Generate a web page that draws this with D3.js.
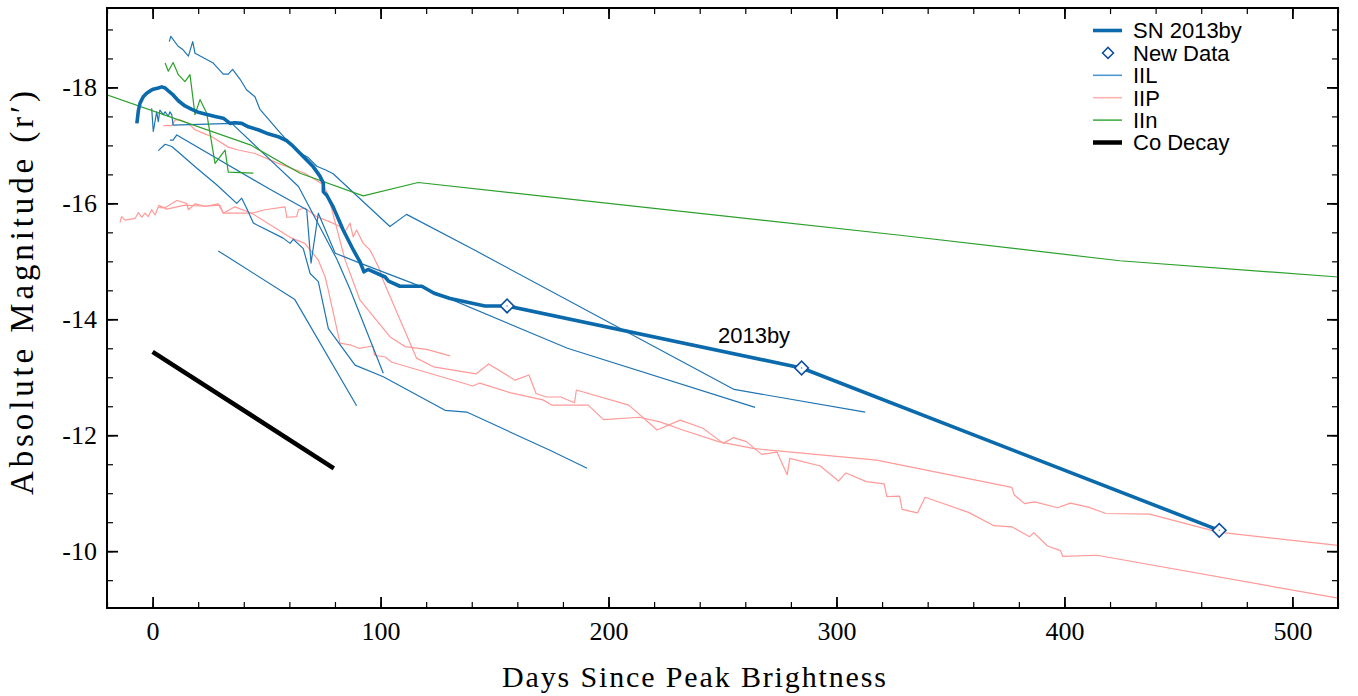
<!DOCTYPE html>
<html>
<head>
<meta charset="utf-8">
<script src="https://cdn.jsdelivr.net/npm/d3@7/dist/d3.min.js"></script>
<style>
  body { margin: 0; background: #fff; }
</style>
</head>
<body>
<div id="graph"></div>
<script>
// light curves, [days since peak, absolute magnitude]
const sn2013by = [[-6.9,-17.38],[-6.2,-17.61],[-5.5,-17.73],[-4.1,-17.84],[-2.6,-17.90],[-1.1,-17.94],
  [0.3,-17.97],[2.5,-17.99],[4.0,-18.01],[5.5,-17.99],[6.9,-17.94],[9.0,-17.87],[11.3,-17.77],
  [14.2,-17.68],[17.2,-17.62],[20.1,-17.57],[23.0,-17.54],[27.4,-17.50],[31.0,-17.47],[34.0,-17.38],
  [36.1,-17.39],[39.1,-17.38],[42.0,-17.32],[46.3,-17.27],[50.7,-17.20],[55.1,-17.15],[58.9,-17.08],
  [61.0,-17.01],[64.0,-16.89],[66.8,-16.78],[70.5,-16.63],[73.4,-16.47],[74.9,-16.35],[74.9,-16.20],
  [76.4,-16.14],[79.2,-15.94],[83.6,-15.54],[88.0,-15.20],[91.0,-14.99],[92.7,-14.82],[94.5,-14.86],
  [102.0,-14.73],[103.5,-14.66],[108.5,-14.57],[118.1,-14.57],[123.5,-14.45],[130.5,-14.36],
  [145.8,-14.23],[155.5,-14.23],[284.7,-13.16],[467.9,-10.36]];

const newData = [[155.5,-14.23],[284.7,-13.16],[467.9,-10.36]];

const coDecay = [[0,-13.44],[79.5,-11.43]];

const iilA = [[7.3,-18.79],[8.0,-18.88],[11.2,-18.71],[13.1,-18.66],[15.7,-18.54],[17.6,-18.79],
  [18.6,-18.59],[26.6,-18.42],[31.0,-18.23],[33.2,-18.23],[35.1,-18.31],[38.4,-18.14],[41.2,-17.96],
  [44.9,-17.84],[47.1,-17.62],[55.9,-17.22],[63.2,-16.90],[68.3,-16.79],[72.0,-16.64],[75.7,-16.58],
  [79.2,-16.51],[104.1,-15.60],[111.4,-15.81],[141.4,-15.19],[255.1,-12.79],[312.6,-12.40]];
const iilB = [[-0.4,-17.64],[0.3,-17.24],[1.8,-17.58],[2.5,-17.41],[3.2,-17.61],[4.7,-17.53],
  [5.5,-17.58],[6.9,-17.50],[7.6,-17.58],[8.4,-17.53],[9.0,-17.35],[34.7,-17.38],[64.0,-16.29],
  [80.8,-15.04],[86.6,-14.52],[101.2,-13.07]];
const iilC = [[2.5,-16.91],[5.5,-17.02],[8.4,-16.98],[12.0,-16.86],[19.3,-16.61],[28.1,-16.32],
  [36.9,-16.00],[39.1,-16.09],[41.2,-15.92],[44.2,-15.66],[45.6,-15.63],[57.3,-15.40],[60.3,-15.31],
  [61.7,-15.38],[66.1,-15.22],[69.1,-14.79],[72.7,-14.65],[77.1,-13.84],[88.8,-13.21],[101.2,-13.01],
  [128.3,-12.43],[137.8,-12.40],[174.3,-11.74],[190.6,-11.43]];
const iilD = [[28.8,-15.18],[62.4,-14.34],[89.5,-12.51]];
const iilE = [[7.6,-17.09],[9.0,-17.09],[10.6,-17.18],[50.7,-16.26],[67.6,-15.89],[69.5,-14.97],
  [72.7,-15.83],[80.1,-15.14],[91.0,-14.97],[114.2,-14.62],[182.0,-13.50],[264.3,-12.48]];

const iipA = [[-14.3,-15.67],[-13.6,-15.77],[-12.1,-15.71],[-7.7,-15.74],[-6.2,-15.84],[-4.8,-15.76],
  [-3.3,-15.83],[-1.9,-15.77],[-0.4,-15.89],[1.1,-15.80],[2.5,-15.94],[4.0,-15.92],[6.2,-15.94],
  [10.6,-16.05],[15.0,-16.00],[15.7,-15.89],[18.6,-15.99],[23.0,-15.95],[28.8,-15.99],[31.0,-15.83],
  [36.1,-15.94],[43.5,-15.83],[49.3,-15.89],[58.1,-15.94],[58.9,-15.76],[63.2,-15.77],[64.0,-15.89],
  [66.8,-15.92],[72.0,-15.77],[77.8,-15.68],[82.2,-15.60],[84.4,-15.51],[86.6,-15.66],[88.0,-15.42],
  [89.5,-15.54],[92.4,-15.31],[95.3,-15.20],[96.9,-15.08],[99.7,-14.85],[100.5,-14.73],[115.8,-13.33],
  [123.2,-13.18],[142.0,-13.06],[147.4,-13.23],[159.0,-12.95],[165.1,-13.04],[168.2,-12.72],
  [172.8,-12.66],[179.0,-12.66],[185.1,-12.56],[185.9,-12.78],[208.9,-12.52],[221.3,-12.09],
  [231.4,-12.26],[241.4,-12.12],[250.4,-11.86],[254.9,-11.96],[260.5,-11.89],[267.2,-11.67],
  [273.9,-11.71],[278.4,-11.32],[279.5,-11.60],[292.9,-11.47],[300.9,-11.21],[304.1,-11.35],
  [313.1,-11.20],[320.9,-11.16],[322.1,-10.94],[327.7,-10.95],[328.8,-10.72],[335.5,-10.66],
  [338.9,-10.93],[357.9,-10.67],[369.1,-10.44],[376.9,-10.42],[384.7,-10.25],[386.5,-10.32],
  [392.6,-10.09],[398.2,-10.01],[399.3,-9.91],[414.3,-9.93],[520.0,-9.19]];
const iipB = [[2.5,-15.97],[6.2,-15.90],[14.2,-15.97],[23.0,-15.95],[29.5,-15.97],[31.0,-15.83],
  [43.5,-15.83],[61.0,-15.40],[66.8,-15.31],[72.7,-15.02],[75.7,-14.73],[77.1,-14.50],[82.2,-13.59],
  [86.6,-13.56],[90.5,-13.50],[96.6,-13.54],[97.4,-13.38],[102.0,-13.35],[105.0,-13.26],[140.5,-12.85],
  [143.5,-12.90],[157.2,-12.73],[171.2,-12.61],[175.1,-12.52],[191.1,-12.52],[197.8,-12.27],
  [213.5,-12.31],[222.5,-12.23],[232.6,-12.09],[248.2,-11.89],[263.9,-11.77],[317.6,-11.57],
  [376.9,-11.10],[378.0,-10.97],[382.5,-10.82],[387.0,-10.85],[397.0,-10.75],[402.6,-10.83],
  [410.5,-10.76],[418.2,-10.65],[437.3,-10.64],[467.5,-10.33],[520.0,-10.10]];
const iipC = [[4.7,-17.34],[8.4,-17.34],[9.9,-17.44],[12.0,-17.44],[15.7,-17.38],[18.6,-17.27],
  [21.6,-17.22],[26.0,-17.15],[33.2,-16.97],[37.6,-16.92],[44.9,-16.86],[55.1,-16.69],[66.8,-16.52],
  [74.9,-16.32],[76.9,-16.15],[84.4,-15.03],[91.0,-14.33],[104.1,-13.70],[110.7,-13.53],
  [120.2,-13.48],[130.5,-13.37]];

const iinA = [[-20.5,-17.88],[42.8,-17.01],[64.7,-16.52],[92.4,-16.13],[116.5,-16.36],
  [327.9,-15.45],[424.3,-15.01],[520.0,-14.73]];
const iinB = [[5.5,-18.42],[6.9,-18.28],[9.0,-18.43],[11.3,-18.22],[14.2,-18.10],[16.4,-18.22],
  [18.6,-17.53],[20.8,-17.79],[23.7,-17.56],[27.4,-16.69],[31.8,-16.92],[33.2,-16.54],[44.2,-16.52]];

const xMajor = [0, 100, 200, 300, 400, 500];
const yMajor = [-18, -16, -14, -12, -10];
const legendLabels = ["SN 2013by", "New Data", "IIL", "IIP", "IIn", "Co Decay"];

const blue = "#0b6aab", thinBlue = "#1f74b2", pink = "#ff9a98", green = "#2ca02c";

let svg = d3.select("#graph").append("svg")
  .attr("width", 1358)
  .attr("height", 696);

let plotL = 107, plotR = 1338, plotT = 8, plotB = 608;

let xScale = d3.scaleLinear().domain([-20, 520]).range([plotL, plotR]);
let yScale = d3.scaleLinear().domain([-19.37, -9.02]).range([plotT, plotB]);

svg.append("clipPath").attr("id", "plot")
  .append("rect")
  .attr("x", plotL).attr("y", plotT)
  .attr("width", plotR - plotL).attr("height", plotB - plotT);

let line = d3.line()
  .x(function (d) { return xScale(d[0]); })
  .y(function (d) { return yScale(d[1]); });

let g = svg.append("g").attr("clip-path", "url(#plot)");

function drawCurves(curves, color, width) {
  g.selectAll(null)
    .data(curves)
    .enter()
    .append("path")
    .attr("d", line)
    .attr("fill", "none")
    .attr("stroke", color)
    .attr("stroke-width", width)
    .attr("stroke-linejoin", "round");
}

drawCurves([iipA, iipB, iipC], pink, 1.2);
drawCurves([iilA, iilB, iilC, iilD, iilE], thinBlue, 1.2);
drawCurves([iinA, iinB], green, 1.2);
drawCurves([sn2013by], blue, 3.6);
drawCurves([coDecay], "#000", 4.5);

let diamond = d3.symbol().type(d3.symbolSquare).size(92);

g.selectAll(".nd")
  .data(newData)
  .enter()
  .append("path")
  .attr("d", diamond)
  .attr("transform", function (d) {
    return "translate(" + xScale(d[0]) + "," + yScale(d[1]) + ") rotate(45)";
  })
  .attr("fill", "#fff")
  .attr("stroke", "#0d4f9e")
  .attr("stroke-width", 1.6);

g.selectAll(".ndot")
  .data(newData)
  .enter()
  .append("circle")
  .attr("cx", function (d) { return xScale(d[0]); })
  .attr("cy", function (d) { return yScale(d[1]); })
  .attr("r", 0.8)
  .attr("fill", "#5a8cc8");

svg.append("text")
  .attr("x", xScale(248))
  .attr("y", yScale(-13.59))
  .attr("font-family", "Liberation Sans, Arial, sans-serif")
  .attr("font-size", 22)
  .text("2013by");

// axes, ticks point inward on all four sides
let xMinor = d3.range(-20, 521, 20);
let yMinor = d3.range(-19, -9.4, 0.5);

function styleAxis(sel, w) {
  sel.select(".domain").remove();
  sel.selectAll(".tick line").attr("stroke", "#000").attr("stroke-width", w);
}

let bottomMinor = svg.append("g").attr("transform", "translate(0," + plotB + ")")
  .call(d3.axisBottom(xScale).tickValues(xMinor).tickSize(-6).tickFormat(""));
styleAxis(bottomMinor, 1.2);
let bottomMajor = svg.append("g").attr("transform", "translate(0," + plotB + ")")
  .call(d3.axisBottom(xScale).tickValues(xMajor).tickSize(-11).tickPadding(14).tickFormat(d3.format("d")));
styleAxis(bottomMajor, 1.8);

let topMinor = svg.append("g").attr("transform", "translate(0," + plotT + ")")
  .call(d3.axisTop(xScale).tickValues(xMinor).tickSize(-6).tickFormat(""));
styleAxis(topMinor, 1.2);
let topMajor = svg.append("g").attr("transform", "translate(0," + plotT + ")")
  .call(d3.axisTop(xScale).tickValues(xMajor).tickSize(-11).tickFormat(""));
styleAxis(topMajor, 1.8);

let leftMinor = svg.append("g").attr("transform", "translate(" + plotL + ",0)")
  .call(d3.axisLeft(yScale).tickValues(yMinor).tickSize(-6).tickFormat(""));
styleAxis(leftMinor, 1.2);
let leftMajor = svg.append("g").attr("transform", "translate(" + plotL + ",0)")
  .call(d3.axisLeft(yScale).tickValues(yMajor).tickSize(-11).tickPadding(10)
    .tickFormat(function (d) { return "-" + Math.abs(d); }));
styleAxis(leftMajor, 1.8);

let rightMinor = svg.append("g").attr("transform", "translate(" + plotR + ",0)")
  .call(d3.axisRight(yScale).tickValues(yMinor).tickSize(-6).tickFormat(""));
styleAxis(rightMinor, 1.2);
let rightMajor = svg.append("g").attr("transform", "translate(" + plotR + ",0)")
  .call(d3.axisRight(yScale).tickValues(yMajor).tickSize(-11).tickFormat(""));
styleAxis(rightMajor, 1.8);

svg.selectAll(".tick text")
  .attr("font-family", "Liberation Serif, Times New Roman, serif")
  .attr("font-size", 26)
  .attr("fill", "#000");

svg.append("rect")
  .attr("x", plotL).attr("y", plotT)
  .attr("width", plotR - plotL).attr("height", plotB - plotT)
  .attr("fill", "none")
  .attr("stroke", "#000")
  .attr("stroke-width", 2);

svg.append("text")
  .attr("x", 694)
  .attr("y", 687)
  .attr("text-anchor", "middle")
  .attr("font-family", "Liberation Serif, Times New Roman, serif")
  .attr("font-size", 30)
  .attr("textLength", 384)
  .attr("lengthAdjust", "spacing")
  .text("Days Since Peak Brightness");

svg.append("text")
  .attr("transform", "translate(33,293) rotate(-90)")
  .attr("text-anchor", "middle")
  .attr("font-family", "Liberation Serif, Times New Roman, serif")
  .attr("font-size", 33)
  .attr("textLength", 404)
  .attr("lengthAdjust", "spacing")
  .text("Absolute Magnitude (r\u2032)");

// legend
let legend = svg.append("g");
let rows = legend.selectAll("g")
  .data(legendLabels)
  .enter()
  .append("g")
  .attr("transform", function (d, i) { return "translate(1093," + (30.5 + i * 22.4) + ")"; });

rows.each(function (d, i) {
  let row = d3.select(this);
  if (i === 1) {
    row.append("path")
      .attr("d", d3.symbol().type(d3.symbolSquare).size(60))
      .attr("transform", "translate(15,0) rotate(45)")
      .attr("fill", "#fff")
      .attr("stroke", "#0d4f9e")
      .attr("stroke-width", 1.5);
  } else {
    let colors = [blue, null, "#4f98d0", "#ffb3b1", green, "#000"];
    let widths = [3.6, 0, 1.6, 1.6, 1.4, 4.5];
    row.append("line")
      .attr("x1", 0).attr("x2", 29)
      .attr("stroke", colors[i])
      .attr("stroke-width", widths[i]);
  }
  row.append("text")
    .attr("x", 40)
    .attr("dy", "0.36em")
    .attr("font-family", "Liberation Sans, Arial, sans-serif")
    .attr("font-size", 22)
    .text(d);
});
</script>
</body>
</html>
